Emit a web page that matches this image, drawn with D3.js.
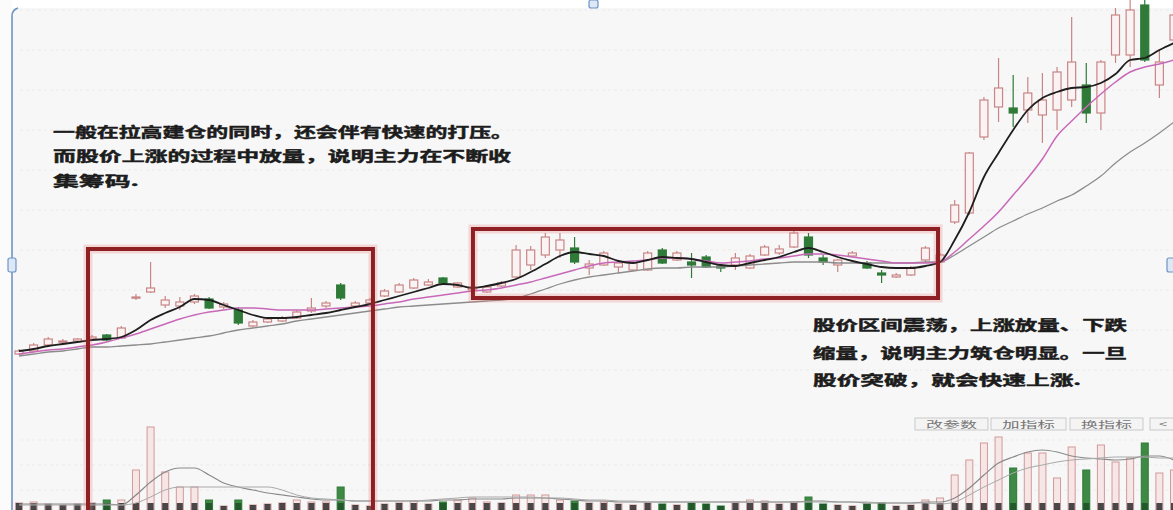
<!DOCTYPE html>
<html><head><meta charset="utf-8">
<script src="https://cdn.jsdelivr.net/npm/d3@7"></script>
<style>html,body{margin:0;padding:0;background:#fff;}svg{display:block;}</style>
</head><body>
<svg id="c" width="1173" height="510"></svg>
<script>
// ---------- data ----------
const days = d3.range(80);
const open  = [8.8,8.95,9.25,9.4,9.45,9.55,9.75,9.6,11.6,11.9,11.25,11.2,11.4,11.55,11.15,11.0,10.2,10.4,10.45,10.6,10.95,11.2,12.25,11.2,11.35,11.7,11.9,12.1,12.25,12.6,12.15,12.0,11.9,12.2,12.65,13.25,13.75,14.0,14.1,13.1,13.25,13.15,13.0,13.0,14.0,13.5,13.4,13.65,13.2,13.25,13.1,13.75,13.85,14.15,14.65,13.6,13.25,13.7,13.35,12.85,12.65,12.75,13.5,13.4,15.4,15.85,19.65,21.15,21.1,21.0,20.75,21.0,21.5,22.25,20.85,23.75,23.75,26.25,22.25,24.5];
const close = [8.95,9.25,9.55,9.45,9.55,9.65,9.5,10.1,11.65,12.1,11.5,11.4,11.7,11.1,11.3,10.35,10.4,10.55,10.6,10.9,11.1,11.35,11.6,11.35,11.5,11.95,12.25,12.5,12.4,12.35,12.35,12.15,12.15,12.35,14.0,14.0,14.65,14.5,13.4,13.3,13.85,13.35,13.35,13.85,13.35,13.85,13.25,13.15,13.1,13.6,13.7,14.15,14.05,14.85,13.75,13.4,13.5,13.85,13.1,12.75,12.75,13.1,14.1,13.75,16.25,18.85,21.5,22.1,20.85,21.85,21.5,22.9,23.4,20.85,23.4,25.75,26.0,23.5,23.4,25.75];
const high  = [9.05,9.35,9.65,9.55,9.6,9.75,9.8,10.2,11.8,13.4,11.7,11.65,11.8,11.65,11.4,11.15,10.5,10.65,10.7,11.0,11.6,11.45,12.35,11.45,11.6,12.05,12.35,12.6,12.55,12.65,12.4,12.25,12.25,12.45,14.25,14.2,14.85,14.85,14.65,13.5,13.95,13.45,13.45,13.95,14.1,13.95,13.85,13.75,13.3,13.85,13.8,14.25,14.25,15.0,14.85,13.75,13.55,13.95,13.45,13.0,12.85,13.2,14.2,13.85,16.5,18.9,21.65,23.6,22.75,22.65,22.85,23.15,25.65,23.35,23.5,26.1,26.5,26.5,24.0,26.25];
const low   = [8.75,8.9,9.2,9.35,9.4,9.5,9.45,9.55,11.5,11.85,11.1,11.0,11.3,11.05,11.05,10.25,10.15,10.35,10.4,10.55,10.85,11.1,11.5,11.15,11.3,11.65,11.85,12.05,12.2,12.3,12.1,11.95,11.85,12.15,12.6,13.0,13.6,13.6,13.3,12.75,13.2,12.85,12.95,12.95,13.3,13.45,12.6,13.1,12.9,13.0,13.05,13.7,13.75,14.1,13.6,13.25,12.9,13.65,13.05,12.35,12.6,12.7,13.4,13.35,15.3,15.75,19.5,20.4,20.15,20.35,19.35,20.0,21.15,20.35,20.0,23.35,23.15,23.4,21.6,24.0];
const ma5   = [8.95,9.05,9.2,9.3,9.4,9.5,9.55,9.65,10.0,10.5,10.85,11.15,11.55,11.5,11.25,11.0,10.75,10.6,10.6,10.65,10.75,10.85,11.0,11.15,11.3,11.5,11.7,11.9,12.1,12.3,12.25,12.1,12.2,12.35,12.55,12.9,13.3,13.7,13.9,13.8,13.7,13.45,13.35,13.5,13.65,13.6,13.55,13.4,13.25,13.2,13.35,13.5,13.65,13.9,14.1,13.9,13.65,13.45,13.3,13.15,13.1,13.1,13.2,13.4,14.5,15.9,17.65,18.85,20.0,21.0,21.6,21.9,22.1,22.15,22.35,22.8,23.5,23.6,24.0,24.35];
const ma10  = [8.8,8.9,9.0,9.05,9.15,9.25,9.4,9.6,9.8,10.05,10.3,10.55,10.75,10.9,11.0,11.1,11.1,11.05,11.0,11.0,11.0,11.05,11.1,11.15,11.2,11.3,11.4,11.55,11.65,11.75,11.85,11.95,12.0,12.1,12.25,12.4,12.6,12.8,13.0,13.2,13.35,13.4,13.45,13.5,13.6,13.6,13.55,13.45,13.35,13.4,13.45,13.55,13.6,13.7,13.8,13.8,13.75,13.65,13.55,13.45,13.35,13.35,13.35,13.4,13.9,14.55,15.2,15.9,16.75,17.6,18.55,19.7,20.45,21.15,21.8,22.4,22.9,23.15,23.3,23.5];
const ma30  = [8.7,8.8,8.9,8.95,9.05,9.15,9.15,9.2,9.25,9.3,9.4,9.5,9.6,9.7,9.85,10.0,10.1,10.2,10.3,10.45,10.55,10.65,10.75,10.85,10.95,11.05,11.15,11.2,11.25,11.3,11.35,11.4,11.45,11.5,11.6,11.8,12.05,12.3,12.5,12.65,12.75,12.85,12.95,13.05,13.1,13.1,13.15,13.15,13.15,13.2,13.25,13.3,13.35,13.4,13.4,13.4,13.35,13.35,13.35,13.35,13.35,13.35,13.4,13.4,13.75,14.2,14.65,15.1,15.45,15.8,16.1,16.45,16.75,17.2,17.7,18.35,18.9,19.35,19.85,20.4];
const volume = [7,8,6,5,6,7,10,10,40,83,38,23,23,10,4,10,5,6,7,10,8,8,23,5,4,6,7,9,6,8,10,12,8,7,15,15,15,10,9,7,8,6,5,7,6,5,7,6,4,8,10,9,6,8,13,6,5,4,6,7,4,5,10,12,35,50,67,73,42,57,57,32,63,40,65,48,52,67,37,40];
const volMa5  = [6,6,6,6,6,6,6,5,15,28,38,42,42,35,27,23,20,17,15,13,11,10,10,9,9,9,9,9,9,10,10,11,11,11,12,12,12,11,10,9,9,8,8,8,8,8,8,8,8,8,8,8,8,8,9,9,8,8,7,7,7,7,8,8,12,22,35,47,53,58,60,58,54,52,51,50,51,54,54,50];
const volMa10 = [5,5,5,5,5,5,5,5,7,13,20,23,23,23,23,23,23,23,20,15,12,11,10,9,9,9,9,9,10,11,12,13,13,13,13,13,12,12,11,10,10,9,9,8,8,8,8,8,8,8,8,8,8,8,8,8,8,8,8,7,7,7,7,6,8,15,23,30,37,42,45,48,50,51,52,53,53,53,52,52];
const annoLeft  = ["一般在拉高建仓的同时，还会伴有快速的打压。","而股价上涨的过程中放量，说明主力在不断收","集筹码."];
const annoRight = ["股价区间震荡，上涨放量、下跌","缩量，说明主力筑仓明显。一旦","股价突破，就会快速上涨."];
const tabLabels = ["改参数","加指标","换指标","<"];

// ---------- drawing ----------
const W = 1173, H = 510;
const svg = d3.select("#c");
const x  = d3.scalePoint().domain(days).range([19, 1174]);
const xi = d3.scaleLinear().domain([0, 79]).range([19, 1174]);
const y  = d3.scaleLinear().domain([8, 26.5]).range([370, 0]);
const yv = d3.scaleLinear().domain([0, 90]).range([510, 420]);

// background
svg.append("rect").attr("width", W).attr("height", H).attr("fill", "#f7f7f7");
svg.append("rect").attr("width", W).attr("height", 8).attr("fill", "#ffffff");
svg.append("rect").attr("width", 12).attr("height", H).attr("fill", "#fbfbfb");

// faint grid
const g = svg.append("g");
g.selectAll("line.pg").data(y.ticks(12)).join("line")
  .attr("x1", 20).attr("x2", W).attr("y1", d => y(d)).attr("y2", d => y(d))
  .attr("stroke", "#ebebeb").attr("stroke-width", 1).attr("stroke-dasharray", "3,3");
g.selectAll("line.vg").data([20, 45, 70]).join("line")
  .attr("x1", 20).attr("x2", W).attr("y1", d => yv(d)).attr("y2", d => yv(d))
  .attr("stroke", "#ebebeb").attr("stroke-width", 1).attr("stroke-dasharray", "3,3");

const up = i => close[i] >= open[i];
const upCol = "#c98585", dnCol = "#2f7a38";
const bw = 8;

// volume bars
const vg = svg.append("g");
vg.selectAll("rect.v").data(days).join("rect")
  .attr("x", i => x(i) - bw/2 + 0.5).attr("width", bw - 1)
  .attr("y", i => yv(volume[i])).attr("height", i => yv(0) - yv(volume[i]))
  .attr("fill", i => up(i) ? "#f6e6e6" : "#3e8a45")
  .attr("stroke", i => up(i) ? "#d19a9a" : "#2f7a38").attr("stroke-width", 1);
// dark bottoms
vg.selectAll("rect.vb").data(days).join("rect")
  .attr("x", i => x(i) - bw/2 + 1).attr("width", bw - 2)
  .attr("y", i => Math.max(yv(volume[i]), 503)).attr("height", i => 510 - Math.max(yv(volume[i]), 503))
  .attr("fill", i => up(i) ? "#2a2a2a" : "#1f4f28").attr("opacity", 0.85);

vg.append("path").datum(days).attr("d", d3.line().x(i => x(i)).y(i => yv(volMa5[i])).curve(d3.curveMonotoneX)).attr("fill", "none")
  .attr("stroke", "#8a8a8a").attr("stroke-width", 1.2);
vg.append("path").datum(days).attr("d", d3.line().x(i => x(i)).y(i => yv(volMa10[i])).curve(d3.curveMonotoneX)).attr("fill", "none")
  .attr("stroke", "#a9a9a9").attr("stroke-width", 1);

// candles
const cg = svg.append("g");
cg.selectAll("line.w").data(days).join("line")
  .attr("x1", i => x(i)).attr("x2", i => x(i))
  .attr("y1", i => y(high[i])).attr("y2", i => y(low[i]))
  .attr("stroke", i => up(i) ? upCol : dnCol).attr("stroke-width", 1.2);
cg.selectAll("rect.b").data(days).join("rect")
  .attr("x", i => x(i) - bw/2).attr("width", bw)
  .attr("y", i => y(Math.max(open[i], close[i])))
  .attr("height", i => Math.max(1.2, Math.abs(y(open[i]) - y(close[i]))))
  .attr("fill", i => up(i) ? "#fbf3f3" : dnCol)
  .attr("stroke", i => up(i) ? upCol : dnCol).attr("stroke-width", 1.2);

// moving averages
const line = arr => d3.line().x(i => x(i)).y(i => y(arr[i])).curve(d3.curveMonotoneX)(days);
svg.append("path").attr("d", line(ma30)).attr("fill", "none").attr("stroke", "#8c8c8c").attr("stroke-width", 1.3);
svg.append("path").attr("d", line(ma10)).attr("fill", "none").attr("stroke", "#c868b8").attr("stroke-width", 1.5);
svg.append("path").attr("d", line(ma5)).attr("fill", "none").attr("stroke", "#1e1e1e").attr("stroke-width", 1.8);

// red boxes
const boxes = [
  {d0: 4.72, d1: 24.21, top: 14.05, bot: null},
  {d0: 31.05, d1: 62.86, top: 15.05, bot: 11.6}
];
boxes.forEach(b => {
  const x0 = xi(b.d0), x1 = xi(b.d1), y0 = y(b.top), y1 = b.bot === null ? yv(-6) : y(b.bot);
  svg.append("rect").attr("x", x0).attr("y", y0).attr("width", x1 - x0).attr("height", y1 - y0)
    .attr("fill", "none").attr("stroke", "rgba(230,120,120,0.25)").attr("stroke-width", 9);
  svg.append("rect").attr("x", x0).attr("y", y0).attr("width", x1 - x0).attr("height", y1 - y0)
    .attr("fill", "none").attr("stroke", "#8e1f22").attr("stroke-width", 4);
});

// annotation texts
const font = "'Noto Sans CJK SC', 'Noto Sans', sans-serif";
const tl = svg.append("g").attr("font-family", font).attr("font-weight", 700).attr("font-size", 13.5)
  .attr("fill", "#1c1c1c").attr("stroke", "#1c1c1c").attr("stroke-width", 0.45);
const leftLen = [460, 458, 86], leftY = [137, 161, 186];
annoLeft.forEach((t, k) => tl.append("text").attr("x", 53).attr("y", leftY[k]).attr("textLength", leftLen[k])
  .attr("lengthAdjust", "spacingAndGlyphs").text(t));
const rightLen = [314, 314, 268], rightY = [330, 358, 385];
annoRight.forEach((t, k) => tl.append("text").attr("x", 813).attr("y", rightY[k]).attr("textLength", rightLen[k])
  .attr("lengthAdjust", "spacingAndGlyphs").text(t));

// tabs
const tabX = [915, 991, 1070, 1150], tabW = [73, 75, 73, 26];
const tg = svg.append("g").attr("font-family", font).attr("font-size", 9.5).attr("fill", "#777");
tabLabels.forEach((t, k) => {
  tg.append("rect").attr("x", tabX[k]).attr("y", 418).attr("width", tabW[k]).attr("height", 12)
    .attr("fill", "#f4f4f4").attr("stroke", "#c9c9c9").attr("stroke-width", 1);
  tg.append("text").attr("x", tabX[k] + tabW[k]/2).attr("y", 427.5).attr("text-anchor", "middle")
    .attr("textLength", k < 3 ? tabW[k] - 22 : 8).attr("lengthAdjust", "spacingAndGlyphs").text(t);
});

// selection frame (blue)
const blue = "#6f93c4";
svg.append("path").attr("d", "M12,510 L12,16 Q12,10 18,8").attr("fill", "none").attr("stroke", blue).attr("stroke-width", 1.6);
[[8, 258, 8, 14], [589, 0, 9, 8], [1167, 258, 8, 14]].forEach(h => {
  svg.append("rect").attr("x", h[0]).attr("y", h[1]).attr("width", h[2]).attr("height", h[3]).attr("rx", 2)
    .attr("fill", "#dce8f6").attr("stroke", blue).attr("stroke-width", 1.2);
});
</script>
</body></html>
